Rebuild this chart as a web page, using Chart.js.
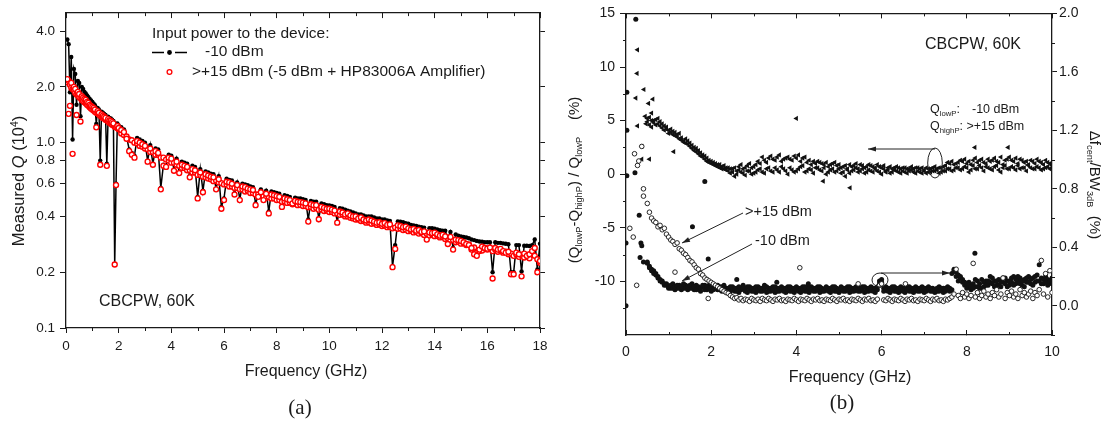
<!DOCTYPE html>
<html>
<head>
<meta charset="utf-8">
<script src="https://cdn.jsdelivr.net/npm/chart.js@4.4.1/dist/chart.umd.min.js"></script>
<style>
  body { margin: 0; background: #fff; width: 1112px; height: 424px; overflow: hidden; }
  .panel { position: absolute; top: 0; width: 556px; height: 424px; }
</style>
</head>
<body>
<div class="panel" style="left:0"><canvas id="chartA"></canvas></div>
<div class="panel" style="left:556px"><canvas id="chartB"></canvas></div>
<script>
// ---------- panel (a): measured Q (10^4) vs frequency ----------
const freqA = [
  0.05,0.10,0.15,0.20,0.25,0.30,0.35,0.40,0.45,0.50,0.55,0.60,0.65,0.70,0.75,0.80,0.85,0.90,0.95,1.00,
  1.05,1.10,1.15,1.20,1.25,1.30,1.35,1.40,1.45,1.50,1.55,1.60,1.65,1.70,1.75,1.80,1.85,1.90,1.95,2.00,
  2.1,2.2,2.3,2.4,2.5,2.6,2.7,2.8,2.9,3.0,3.1,3.2,3.3,3.4,3.5,3.6,3.7,3.8,3.9,4.0,
  4.1,4.2,4.3,4.4,4.5,4.6,4.7,4.8,4.9,5.0,5.1,5.2,5.3,5.4,5.5,5.6,5.7,5.8,5.9,6.0,
  6.1,6.2,6.3,6.4,6.5,6.6,6.7,6.8,6.9,7.0,7.1,7.2,7.3,7.4,7.5,7.6,7.7,7.8,7.9,8.0,
  8.1,8.2,8.3,8.4,8.5,8.6,8.7,8.8,8.9,9.0,9.1,9.2,9.3,9.4,9.5,9.6,9.7,9.8,9.9,10.0,
  10.1,10.2,10.3,10.4,10.5,10.6,10.7,10.8,10.9,11.0,11.1,11.2,11.3,11.4,11.5,11.6,11.7,11.8,11.9,12.0,
  12.1,12.2,12.3,12.4,12.5,12.6,12.7,12.8,12.9,13.0,13.1,13.2,13.3,13.4,13.5,13.6,13.7,13.8,13.9,14.0,
  14.1,14.2,14.3,14.4,14.5,14.6,14.7,14.8,14.9,15.0,15.1,15.2,15.3,15.4,15.5,15.6,15.7,15.8,15.9,16.0,
  16.1,16.2,16.3,16.4,16.5,16.6,16.7,16.8,16.9,17.0,17.1,17.2,17.3,17.4,17.5,17.6,17.7,17.8,17.9,18.0
];
// -10 dBm input (black dots joined by a line)
const qLowPower = [
  3.6,3.4,1.87,2.9,1.04,2.5,2.35,1.6,2.15,2.1,1.39,2.0,1.95,1.88,1.84,1.8,1.76,1.72,1.69,1.66,
  1.62,1.59,1.26,1.54,1.51,0.80,1.47,1.45,1.43,1.41,0.77,1.38,1.36,1.35,1.33,1.31,0.22,0.60,1.27,1.24,
  1.21,1.18,1.07,0.92,0.88,0.85,1.06,1.04,1.02,1.0,0.80,0.97,0.77,0.93,0.92,0.57,0.76,0.75,0.86,0.85,
  0.715,0.82,0.69,0.79,0.78,0.77,0.66,0.75,0.74,0.51,0.72,0.55,0.70,0.69,0.68,0.675,0.565,0.66,0.45,0.50,
  0.64,0.63,0.625,0.53,0.61,0.495,0.60,0.595,0.59,0.58,0.575,0.47,0.52,0.56,0.50,0.55,0.425,0.545,0.54,0.535,
  0.53,0.455,0.52,0.515,0.51,0.475,0.505,0.50,0.50,0.495,0.49,0.385,0.485,0.48,0.48,0.39,0.47,0.465,0.46,0.458,
  0.455,0.45,0.375,0.443,0.44,0.435,0.43,0.425,0.42,0.415,0.41,0.41,0.405,0.40,0.40,0.40,0.395,0.39,0.39,0.385,
  0.385,0.38,0.378,0.215,0.28,0.376,0.375,0.372,0.368,0.365,0.36,0.358,0.355,0.352,0.35,0.348,0.31,0.345,0.345,0.343,
  0.34,0.337,0.335,0.335,0.30,0.33,0.27,0.32,0.315,0.312,0.31,0.308,0.305,0.30,0.298,0.295,0.293,0.292,0.29,0.29,
  0.29,0.20,0.29,0.288,0.288,0.286,0.285,0.283,0.20,0.20,0.28,0.28,0.202,0.278,0.278,0.277,0.28,0.30,0.207,0.285
];
// >+15 dBm input (red open circles), two sweeps
const qHighPower = [
  2.2,1.43,1.58,2.1,0.87,2.0,1.95,1.41,1.88,1.83,1.3,1.78,1.75,1.72,1.7,1.66,1.64,1.6,1.58,1.56,
  1.54,1.51,1.21,1.48,1.45,0.76,1.42,1.4,1.38,1.36,0.75,1.34,1.32,1.31,1.29,1.27,0.22,0.59,1.23,1.2,
  1.17,1.14,1.05,0.90,0.86,0.83,1.02,1.0,0.98,0.96,0.79,0.93,0.76,0.9,0.88,0.56,0.75,0.74,0.83,0.82,
  0.705,0.79,0.685,0.76,0.75,0.74,0.65,0.72,0.71,0.50,0.69,0.54,0.675,0.665,0.655,0.65,0.56,0.635,0.44,0.49,
  0.615,0.61,0.60,0.525,0.59,0.49,0.58,0.575,0.565,0.56,0.555,0.46,0.51,0.54,0.49,0.53,0.415,0.525,0.52,0.515,
  0.51,0.45,0.50,0.495,0.49,0.47,0.485,0.48,0.478,0.475,0.47,0.375,0.465,0.46,0.46,0.386,0.45,0.445,0.44,0.44,
  0.435,0.43,0.37,0.425,0.42,0.41,0.415,0.405,0.40,0.40,0.39,0.395,0.385,0.38,0.385,0.38,0.375,0.37,0.372,0.365,
  0.368,0.36,0.362,0.213,0.267,0.358,0.355,0.35,0.352,0.345,0.34,0.342,0.335,0.338,0.33,0.332,0.30,0.328,0.325,0.327,
  0.32,0.315,0.318,0.312,0.284,0.31,0.265,0.30,0.298,0.295,0.29,0.284,0.28,0.27,0.25,0.245,0.265,0.275,0.27,0.268,
  0.272,0.185,0.27,0.265,0.267,0.26,0.255,0.258,0.195,0.195,0.255,0.25,0.19,0.252,0.245,0.25,0.26,0.27,0.20,0.23
];
const qHighPower2 = [
  2.12,2.15,2.05,1.98,1.95,1.92,1.86,1.82,1.8,1.76,1.74,1.7,1.68,1.65,1.63,1.6,1.58,1.55,1.53,1.51,
  1.49,1.47,1.45,1.44,1.42,1.4,1.38,1.36,1.35,1.33,1.32,1.3,1.28,1.27,1.25,1.24,1.22,1.21,1.2,1.18,
  1.12,1.1,1.08,1.04,1.03,1.0,0.99,0.96,0.95,0.93,0.92,0.89,0.89,0.86,0.86,0.83,0.83,0.81,0.80,0.78,
  0.78,0.76,0.75,0.73,0.73,0.71,0.71,0.69,0.69,0.67,0.67,0.655,0.65,0.64,0.635,0.62,0.625,0.61,0.605,0.595,
  0.595,0.58,0.58,0.57,0.57,0.56,0.56,0.545,0.55,0.535,0.535,0.525,0.525,0.515,0.515,0.505,0.51,0.50,0.50,0.49,
  0.49,0.48,0.483,0.473,0.475,0.465,0.468,0.46,0.462,0.455,0.455,0.448,0.45,0.44,0.445,0.435,0.437,0.428,0.43,0.422,
  0.423,0.415,0.415,0.408,0.41,0.40,0.40,0.393,0.39,0.385,0.385,0.378,0.378,0.37,0.372,0.365,0.367,0.36,0.362,0.355,
  0.357,0.35,0.352,0.345,0.348,0.343,0.345,0.338,0.34,0.333,0.335,0.328,0.33,0.323,0.325,0.318,0.322,0.316,0.32,0.313,
  0.315,0.308,0.31,0.302,0.305,0.297,0.298,0.29,0.292,0.285,0.287,0.28,0.282,0.265,0.272,0.255,0.26,0.262,0.27,0.265,
  0.268,0.26,0.265,0.258,0.262,0.255,0.258,0.25,0.252,0.245,0.25,0.242,0.248,0.24,0.245,0.238,0.25,0.245,0.235,0.225
];
const qTicks = [0.1, 0.2, 0.4, 0.6, 0.8, 1.0, 2.0, 4.0];
const freqMinorA = [1, 3, 5, 7, 9, 11, 13, 15, 17];

// ---------- panel (b): relative Q change and centre-frequency shift ----------
const freqB = [
  0.50,0.55,0.60,0.65,0.70,0.75,0.80,0.85,0.90,0.95,1.00,1.05,1.10,1.15,1.20,1.25,1.30,1.35,1.40,1.45,
  1.50,1.55,1.60,1.65,1.70,1.75,1.80,1.85,1.90,1.95,2.00,2.05,2.10,2.15,2.20,2.25,2.30,2.35,2.40,2.45,
  2.50,2.55,2.60,2.65,2.70,2.75,2.80,2.85,2.90,2.95,3.00,3.05,3.10,3.15,3.20,3.25,3.30,3.35,3.40,3.45,
  3.50,3.55,3.60,3.65,3.70,3.75,3.80,3.85,3.90,3.95,4.00,4.05,4.10,4.15,4.20,4.25,4.30,4.35,4.40,4.45,
  4.50,4.55,4.60,4.65,4.70,4.75,4.80,4.85,4.90,4.95,5.00,5.05,5.10,5.15,5.20,5.25,5.30,5.35,5.40,5.45,
  5.50,5.55,5.60,5.65,5.70,5.75,5.80,5.85,5.90,5.95,6.00,6.05,6.10,6.15,6.20,6.25,6.30,6.35,6.40,6.45,
  6.50,6.55,6.60,6.65,6.70,6.75,6.80,6.85,6.90,6.95,7.00,7.05,7.10,7.15,7.20,7.25,7.30,7.35,7.40,7.45,
  7.50,7.55,7.60,7.65,7.70,7.75,7.80,7.85,7.90,7.95,8.00,8.05,8.10,8.15,8.20,8.25,8.30,8.35,8.40,8.45,
  8.50,8.55,8.60,8.65,8.70,8.75,8.80,8.85,8.90,8.95,9.00,9.05,9.10,9.15,9.20,9.25,9.30,9.35,9.40,9.45,
  9.50,9.55,9.60,9.65,9.70,9.75,9.80,9.85,9.90,9.95,10.00
];
// (QlowP - QhighP) / QlowP in %, left axis (triangles), two sweeps
const dQ = [
  5.2,4.6,5.0,4.8,5.1,4.7,4.9,4.3,4.5,4.2,4.1,3.9,4.0,3.6,3.7,3.3,3.4,3.0,2.9,3.1,
  2.6,2.4,2.5,2.1,1.9,2.0,1.6,1.4,1.5,1.1,1.2,0.9,1.0,0.7,0.9,0.5,0.8,0.4,0.6,0.1,
  0.5,-0.2,0.3,0.7,0.2,0.5,-0.1,0.8,0.3,0.6,0.1,0.9,0.4,1.0,0.2,1.3,0.5,1.5,0.3,1.4,
  0.6,1.6,0.2,1.2,0.5,1.5,0.0,1.4,0.4,1.7,0.3,1.8,0.7,1.5,0.2,1.1,0.5,0.9,0.1,1.0,
  0.6,1.1,0.3,0.9,0.0,0.7,0.4,1.0,0.2,0.8,0.5,0.1,0.7,-0.2,0.4,0.9,0.3,0.8,0.6,0.2,
  0.9,0.5,0.1,0.7,0.4,0.8,0.2,0.6,0.3,0.7,0.0,0.5,0.3,0.6,0.1,0.5,0.4,0.7,0.2,0.5,
  0.3,0.6,0.1,0.5,0.4,0.2,0.6,0.3,0.5,0.1,0.4,0.6,0.2,0.5,0.3,0.7,0.4,0.1,0.6,0.3,
  0.8,0.5,1.0,0.3,0.9,0.6,1.1,0.4,1.2,0.7,1.0,0.2,0.9,1.3,0.5,1.1,0.8,1.4,0.3,1.0,
  0.6,1.2,0.4,1.5,0.8,1.1,0.2,0.9,1.3,0.5,1.6,0.7,1.2,0.4,1.0,1.4,0.6,1.1,0.3,0.9,
  1.3,0.5,1.0,0.7,1.2,0.4,0.9,0.6,1.1,0.5,0.8
];
const dQ2 = [
  4.9,5.3,4.4,5.0,4.6,5.2,4.5,4.7,4.1,4.4,3.8,4.2,3.7,3.9,3.5,3.8,3.2,3.1,3.3,2.8,
  2.9,2.7,2.2,2.4,2.2,1.7,1.8,1.7,1.2,1.3,1.0,1.1,0.8,0.9,0.6,0.7,0.5,0.6,0.3,0.5,
  0.2,0.6,0.0,0.4,0.9,0.1,0.6,0.3,1.0,0.0,0.7,0.2,1.2,0.5,1.6,0.1,1.1,0.6,1.7,0.2,
  1.3,0.4,1.8,0.7,1.4,0.3,1.6,0.6,1.3,0.2,1.5,0.5,1.2,0.8,1.6,0.3,1.3,0.4,1.2,0.6,
  1.2,0.4,1.0,0.6,1.1,0.2,0.9,0.5,1.1,0.3,0.9,0.6,0.2,0.8,0.5,0.1,0.7,0.4,1.0,0.5,
  0.3,0.8,0.6,0.2,0.9,0.3,0.7,0.5,0.9,0.2,0.6,0.8,0.2,0.4,0.7,0.2,0.6,0.3,0.6,0.1,
  0.6,0.2,0.5,0.3,0.7,0.5,0.1,0.6,0.2,0.6,0.3,0.1,0.5,0.2,0.6,0.3,0.5,0.6,0.2,0.7,
  0.3,1.1,0.5,1.2,0.4,1.0,0.6,1.3,0.5,1.4,0.6,1.2,0.4,0.8,1.5,0.5,1.3,0.6,1.1,0.7,
  1.4,0.5,1.3,0.7,1.2,0.4,1.6,0.6,0.8,1.4,0.5,1.3,0.6,1.5,0.8,0.5,1.3,0.6,1.2,0.8,
  0.6,1.2,0.5,1.4,0.6,1.1,0.5,1.3,0.7,1.0,0.6
];
const dQExtraF = [0.23,0.26,0.27,0.27,0.37,0.37,0.42,0.45,0.47,0.53,0.55,0.60,0.63,1.12,4.00,4.63,5.26,8.19,8.97];
const dQExtraV = [7.1,9.4,11.6,4.5,2.6,1.4,7.9,5.4,4.7,6.6,1.4,5.7,7.0,2.1,5.2,-0.65,-1.27,2.5,2.5];

// delta f_cent / BW_3dB in %, right axis, -10 dBm (filled circles), two sweeps
const shiftLow = [
  0.29,0.26,0.24,0.22,0.21,0.19,0.18,0.16,0.15,0.14,0.13,0.14,0.12,0.13,0.14,0.12,0.13,0.15,0.12,0.13,
  0.14,0.12,0.13,0.11,0.13,0.12,0.14,0.11,0.13,0.12,0.13,0.11,0.12,0.14,0.11,0.13,0.12,0.10,0.12,0.13,
  0.11,0.12,0.10,0.13,0.11,0.12,0.10,0.13,0.11,0.12,0.10,0.13,0.11,0.12,0.10,0.11,0.13,0.10,0.12,0.11,
  0.13,0.10,0.12,0.11,0.10,0.12,0.11,0.13,0.10,0.12,0.11,0.10,0.12,0.11,0.13,0.10,0.12,0.11,0.10,0.12,
  0.11,0.13,0.10,0.11,0.12,0.10,0.12,0.11,0.13,0.10,0.11,0.12,0.10,0.12,0.11,0.13,0.10,0.12,0.11,0.10,
  0.12,0.11,0.13,0.10,0.12,0.11,0.10,0.12,0.11,0.17,0.16,0.12,0.11,0.10,0.12,0.11,0.13,0.10,0.12,0.11,
  0.10,0.12,0.11,0.13,0.10,0.12,0.11,0.10,0.12,0.11,0.12,0.10,0.11,0.12,0.10,0.11,0.12,0.10,0.11,0.12,
  0.10,0.11,0.12,0.11,0.24,0.23,0.21,0.19,0.18,0.16,0.15,0.14,0.13,0.12,0.18,0.13,0.15,0.12,0.16,0.14,
  0.17,0.20,0.15,0.13,0.17,0.14,0.16,0.19,0.15,0.13,0.17,0.19,0.14,0.18,0.20,0.15,0.17,0.13,0.19,0.16,
  0.18,0.14,0.20,0.17,0.28,0.15,0.18,0.16,0.14,0.17,0.15
];
const shiftLow2 = [
  0.30,0.27,0.25,0.24,0.22,0.20,0.17,0.17,0.14,0.15,0.12,0.12,0.15,0.11,0.12,0.14,0.11,0.12,0.14,0.11,
  0.12,0.15,0.11,0.14,0.12,0.10,0.13,0.14,0.11,0.14,0.10,0.13,0.14,0.11,0.13,0.10,0.14,0.12,0.11,0.10,
  0.13,0.10,0.12,0.09,0.12,0.14,0.11,0.09,0.13,0.10,0.12,0.09,0.13,0.10,0.12,0.14,0.09,0.12,0.10,0.13,
  0.09,0.12,0.10,0.13,0.12,0.09,0.13,0.10,0.12,0.09,0.13,0.12,0.09,0.13,0.10,0.12,0.09,0.13,0.12,0.10,
  0.13,0.09,0.12,0.10,0.13,0.12,0.09,0.13,0.10,0.12,0.09,0.13,0.12,0.10,0.13,0.09,0.12,0.10,0.13,0.12,
  0.10,0.13,0.09,0.12,0.10,0.13,0.12,0.09,0.13,0.15,0.18,0.10,0.13,0.12,0.09,0.13,0.10,0.12,0.09,0.13,
  0.12,0.09,0.13,0.10,0.12,0.09,0.13,0.12,0.10,0.13,0.09,0.12,0.13,0.10,0.12,0.09,0.10,0.13,0.12,0.09,
  0.12,0.13,0.10,0.22,0.25,0.20,0.17,0.20,0.16,0.14,0.12,0.16,0.11,0.15,0.13,0.17,0.12,0.18,0.13,0.17,
  0.14,0.16,0.19,0.17,0.14,0.18,0.13,0.16,0.19,0.17,0.14,0.16,0.20,0.15,0.17,0.19,0.14,0.18,0.16,0.20,
  0.15,0.19,0.16,0.21,0.17,0.19,0.15,0.20,0.18,0.16,0.19
];
const shiftLowExtraF = [0.0,0.0,0.02,0.02,0.02,0.21,0.23,0.31,0.33,0.35,0.37,0.41,1.56,1.85,1.93,2.6,3.54,4.28,8.19];
const shiftLowExtraV = [0.0,0.43,1.46,1.2,0.89,0.91,1.96,0.62,0.33,0.43,0.41,0.30,0.54,0.85,0.32,0.18,0.16,0.15,0.36];

// delta f_cent / BW_3dB in %, right axis, >+15 dBm (open circles)
const shiftHigh = [
  0.70,0.64,0.60,0.58,0.57,0.54,0.55,0.52,0.53,0.49,0.47,0.45,0.44,0.42,0.43,0.39,0.38,0.36,0.35,0.33,
  0.31,0.30,0.28,0.26,0.25,0.22,0.21,0.19,0.18,0.17,0.16,0.15,0.14,0.13,0.12,0.11,0.10,0.09,0.085,0.07,
  0.06,0.05,0.055,0.04,0.05,0.035,0.045,0.04,0.03,0.05,0.04,0.035,0.045,0.03,0.05,0.04,0.035,0.05,0.04,0.03,
  0.045,0.04,0.05,0.035,0.04,0.03,0.045,0.04,0.035,0.05,0.04,0.03,0.045,0.04,0.035,0.05,0.04,0.03,0.045,0.04,
  0.05,0.035,0.04,0.03,0.045,0.04,0.035,0.05,0.04,0.03,0.045,0.04,0.05,0.035,0.04,0.03,0.045,0.04,0.035,0.05,
  0.04,0.03,0.045,0.04,0.05,0.035,0.04,0.03,0.045,0.14,0.15,0.04,0.035,0.05,0.04,0.03,0.045,0.04,0.035,0.05,
  0.04,0.03,0.045,0.04,0.05,0.035,0.04,0.03,0.045,0.04,0.035,0.05,0.04,0.03,0.045,0.04,0.05,0.035,0.04,0.03,
  0.045,0.04,0.05,0.06,0.08,0.25,0.07,0.05,0.09,0.06,0.08,0.05,0.07,0.29,0.06,0.09,0.05,0.07,0.10,0.06,
  0.08,0.05,0.09,0.07,0.11,0.06,0.08,0.19,0.05,0.09,0.07,0.10,0.06,0.08,0.05,0.11,0.07,0.09,0.06,0.08,
  0.10,0.05,0.09,0.07,0.11,0.31,0.08,0.22,0.06,0.24,0.09
];
const shiftHighExtraF = [0.09,0.17,0.20,0.25,0.27,0.30,0.37,0.41,0.41,1.15,1.93,4.08,5.45,6.56];
const shiftHighExtraV = [0.53,0.47,1.04,0.14,0.96,0.99,1.09,0.75,0.80,0.23,0.05,0.26,0.15,0.15];

const dQTicks = [-10, -5, 0, 5, 10, 15];
const dQMinor = [-12.5, -7.5, -2.5, 2.5, 7.5, 12.5];
const shiftTicks = [0.0, 0.4, 0.8, 1.2, 1.6, 2.0];
const shiftMinor = [-0.2, 0.2, 0.6, 1.0, 1.4, 1.8];
const freqMinorB = [1, 3, 5, 7, 9];

// ---------- helpers ----------
const SANS = '"Liberation Sans", Arial, sans-serif';
const SERIF = '"Liberation Serif", "Times New Roman", serif';
const INK = '#1a1a1a';

function pairs(xs, ys) {
  return xs.map((x, i) => ({ x: x, y: ys[i] }));
}

// text with sub/superscripts, centred (or left aligned) on x, vertically middle on y
function richText(ctx, x, y, parts, size, opts) {
  opts = opts || {};
  ctx.save();
  ctx.translate(x, y);
  if (opts.rot) ctx.rotate(opts.rot);
  ctx.fillStyle = opts.color || INK;
  ctx.textBaseline = 'middle';
  ctx.textAlign = 'left';
  const items = parts.map(p => {
    const s = (p.sub || p.sup) ? size * 0.62 : size;
    const font = (p.italic ? 'italic ' : '') + s + 'px ' + (opts.family || SANS);
    ctx.font = font;
    return { p: p, font: font, w: ctx.measureText(p.t).width };
  });
  const total = items.reduce((a, b) => a + b.w, 0);
  let cx = opts.align === 'left' ? 0 : -total / 2;
  items.forEach(it => {
    ctx.font = it.font;
    let dy = 0;
    if (it.p.sub) dy = size * 0.3;
    if (it.p.sup) dy = -size * 0.25;
    ctx.fillText(it.p.t, cx, dy);
    cx += it.w;
  });
  ctx.restore();
}

function arrow(ctx, x1, y1, x2, y2) {
  ctx.beginPath();
  ctx.moveTo(x1, y1);
  ctx.lineTo(x2, y2);
  ctx.stroke();
  const a = Math.atan2(y2 - y1, x2 - x1), L = 8, W = 2.6;
  ctx.beginPath();
  ctx.moveTo(x2, y2);
  ctx.lineTo(x2 - L * Math.cos(a) + W * Math.sin(a), y2 - L * Math.sin(a) - W * Math.cos(a));
  ctx.lineTo(x2 - L * Math.cos(a) - W * Math.sin(a), y2 - L * Math.sin(a) + W * Math.cos(a));
  ctx.closePath();
  ctx.fill();
}

// short unlabeled ticks between the major ones
function minorTicks(items) {
  return {
    id: 'minorTicks',
    afterDraw(chart) {
      const ctx = chart.ctx, a = chart.chartArea;
      ctx.save();
      ctx.strokeStyle = INK;
      ctx.lineWidth = 1;
      items.forEach(m => {
        const s = chart.scales[m.scale];
        m.values.forEach(v => {
          const p = Math.round(s.getPixelForValue(v)) + 0.5;
          ctx.beginPath();
          if (s.isHorizontal()) {
            const y0 = m.edge === 'top' ? a.top : a.bottom;
            ctx.moveTo(p, y0);
            ctx.lineTo(p, y0 + m.len);
          } else {
            const x0 = m.edge === 'left' ? a.left : a.right;
            ctx.moveTo(x0, p);
            ctx.lineTo(x0 + m.len, p);
          }
          ctx.stroke();
        });
      });
      ctx.restore();
    }
  };
}

function fixedTicks(values) {
  return s => { s.ticks = values.map(v => ({ value: v })); };
}

const tickFont = (size) => ({ family: SANS, size: size });

// ---------- chart (a) ----------
const notesA = {
  id: 'notesA',
  afterDraw(chart) {
    const ctx = chart.ctx;
    richText(ctx, 19, 181, [{ t: 'Measured ' }, { t: 'Q', italic: true }, { t: ' (10' }, { t: '4', sup: true }, { t: ')' }], 16.5, { rot: -Math.PI / 2 });
    richText(ctx, 306, 372, [{ t: 'Frequency (GHz)' }], 16);
    richText(ctx, 300, 408, [{ t: '(a)' }], 21, { family: SERIF });
    richText(ctx, 152, 34, [{ t: 'Input power to the device:' }], 15.5, { align: 'left' });
    // legend symbols
    ctx.save();
    ctx.strokeStyle = '#000';
    ctx.fillStyle = '#000';
    ctx.lineWidth = 1.3;
    ctx.beginPath();
    ctx.moveTo(152, 52.5); ctx.lineTo(164, 52.5);
    ctx.moveTo(175, 52.5); ctx.lineTo(187, 52.5);
    ctx.stroke();
    ctx.beginPath(); ctx.arc(169.5, 52.5, 2.4, 0, Math.PI * 2); ctx.fill();
    ctx.strokeStyle = '#f00';
    ctx.lineWidth = 1.3;
    ctx.fillStyle = '#fff';
    ctx.beginPath(); ctx.arc(169.5, 72, 2.4, 0, Math.PI * 2); ctx.fill(); ctx.stroke();
    ctx.restore();
    richText(ctx, 205, 52, [{ t: '-10 dBm' }], 15.5, { align: 'left' });
    richText(ctx, 192, 72, [{ t: '>+15 dBm (-5 dBm + HP83006A Amplifier)' }], 15.5, { align: 'left' });
    richText(ctx, 99, 302, [{ t: 'CBCPW, 60K' }], 16, { align: 'left' });
  }
};

const redCircles = {
  showLine: false,
  pointRadius: 2.5,
  pointBorderWidth: 1.35,
  pointBorderColor: '#f00',
  pointBackgroundColor: '#fff'
};

new Chart(document.getElementById('chartA'), {
  type: 'scatter',
  data: {
    datasets: [
      Object.assign({ label: '>+15 dBm (-5 dBm + HP83006A Amplifier)', data: pairs(freqA, qHighPower) }, redCircles),
      Object.assign({ label: '>+15 dBm, second sweep', data: pairs(freqA, qHighPower2) }, redCircles),
      {
        label: '-10 dBm',
        data: pairs(freqA, qLowPower),
        showLine: true,
        borderColor: '#000',
        borderWidth: 1.5,
        pointRadius: 2.2,
        pointBorderWidth: 0,
        pointBackgroundColor: '#000'
      }
    ]
  },
  options: {
    responsive: true,
    maintainAspectRatio: false,
    animation: false,
    layout: { padding: 0 },
    plugins: { legend: { display: false }, tooltip: { enabled: false } },
    scales: {
      x: {
        type: 'linear', position: 'bottom', min: 0, max: 18,
        ticks: { stepSize: 2, color: INK, font: tickFont(13.5), padding: 5, maxRotation: 0 },
        grid: { drawOnChartArea: false, tickLength: 5, tickColor: INK, color: INK },
        border: { display: true, color: INK, width: 1.3 },
        afterFit: s => { s.height = 96; }
      },
      x2: {
        type: 'linear', position: 'top', min: 0, max: 18,
        ticks: { stepSize: 2, display: false },
        grid: { drawOnChartArea: false, tickLength: -5, tickColor: INK, color: INK },
        border: { display: true, color: INK, width: 1.3 },
        afterFit: s => { s.height = 11; }
      },
      y: {
        type: 'logarithmic', position: 'left', min: 0.1, max: 5,
        afterBuildTicks: fixedTicks(qTicks),
        ticks: { color: INK, font: tickFont(13.5), padding: 5, callback: v => Number(v).toFixed(1) },
        grid: { drawOnChartArea: false, tickLength: 6, tickColor: INK, color: INK },
        border: { display: true, color: INK, width: 1.3 },
        afterFit: s => { s.width = 66; }
      },
      y2: {
        type: 'logarithmic', position: 'right', min: 0.1, max: 5,
        afterBuildTicks: fixedTicks(qTicks),
        ticks: { display: false },
        grid: { drawOnChartArea: false, tickLength: 5, tickColor: INK, color: INK },
        border: { display: true, color: INK, width: 1.3 },
        afterFit: s => { s.width = 16; }
      }
    }
  },
  plugins: [
    minorTicks([
      { scale: 'x', edge: 'bottom', values: freqMinorA, len: 3 },
      { scale: 'x2', edge: 'top', values: freqMinorA, len: 3 }
    ]),
    notesA
  ]
});

// ---------- chart (b) ----------
const notesB = {
  id: 'notesB',
  afterDraw(chart) {
    const ctx = chart.ctx;
    richText(ctx, 19, 180, [
      { t: '(Q' }, { t: 'lowP', sub: true }, { t: '-Q' }, { t: 'highP', sub: true },
      { t: ') / Q' }, { t: 'lowP', sub: true }, { t: '    (%)' }
    ], 15, { rot: -Math.PI / 2 });
    richText(ctx, 538, 185, [
      { t: '\u0394f' }, { t: 'cent', sub: true }, { t: '/BW' }, { t: '3dB', sub: true }, { t: '  (%)' }
    ], 15, { rot: Math.PI / 2 });
    richText(ctx, 294, 378, [{ t: 'Frequency (GHz)' }], 16);
    richText(ctx, 286, 403, [{ t: '(b)' }], 21, { family: SERIF });
    richText(ctx, 369, 45, [{ t: 'CBCPW, 60K' }], 16, { align: 'left' });
    richText(ctx, 374, 110, [{ t: 'Q' }, { t: 'lowP', sub: true }, { t: ':' }], 12.5, { align: 'left' });
    richText(ctx, 416, 110, [{ t: '-10 dBm' }], 12.5, { align: 'left' });
    richText(ctx, 374, 127, [{ t: 'Q' }, { t: 'highP', sub: true }, { t: ': >+15 dBm' }], 12.5, { align: 'left' });
    richText(ctx, 189, 212, [{ t: '>+15 dBm' }], 14.5, { align: 'left' });
    richText(ctx, 199, 241, [{ t: '-10 dBm' }], 14.5, { align: 'left' });

    ctx.save();
    ctx.strokeStyle = '#222';
    ctx.fillStyle = '#222';
    ctx.lineWidth = 1;
    ctx.beginPath(); ctx.ellipse(379, 163, 7.3, 15, 0, 0, Math.PI * 2); ctx.stroke();
    arrow(ctx, 379, 149, 312, 149);
    ctx.beginPath(); ctx.ellipse(324, 280, 8, 7, 0, 0, Math.PI * 2); ctx.stroke();
    arrow(ctx, 325, 273, 394, 273);
    arrow(ctx, 187, 213, 126, 243);
    arrow(ctx, 196, 244, 126, 281);
    ctx.restore();
  }
};

const triangles = {
  yAxisID: 'y',
  pointStyle: 'triangle',
  rotation: 270,
  pointRadius: 3,
  pointBorderWidth: 0,
  pointBackgroundColor: '#111'
};
const filledDots = {
  yAxisID: 'y2',
  pointRadius: 2.5,
  pointBorderWidth: 0,
  pointBackgroundColor: '#111'
};

new Chart(document.getElementById('chartB'), {
  type: 'scatter',
  data: {
    datasets: [
      {
        label: 'shift, >+15 dBm',
        yAxisID: 'y2',
        data: pairs(freqB, shiftHigh).concat(pairs(shiftHighExtraF, shiftHighExtraV)),
        pointRadius: 2.3,
        pointBorderWidth: 0.9,
        pointBorderColor: '#111',
        pointBackgroundColor: '#fff'
      },
      Object.assign({ label: 'shift, -10 dBm', data: pairs(freqB, shiftLow).concat(pairs(shiftLowExtraF, shiftLowExtraV)) }, filledDots),
      Object.assign({ label: 'shift, -10 dBm, second sweep', data: pairs(freqB, shiftLow2) }, filledDots),
      Object.assign({ label: '(QlowP-QhighP)/QlowP', data: pairs(freqB, dQ).concat(pairs(dQExtraF, dQExtraV)) }, triangles),
      Object.assign({ label: '(QlowP-QhighP)/QlowP, second sweep', data: pairs(freqB, dQ2) }, triangles)
    ]
  },
  options: {
    responsive: true,
    maintainAspectRatio: false,
    animation: false,
    layout: { padding: 0 },
    plugins: { legend: { display: false }, tooltip: { enabled: false } },
    scales: {
      x: {
        type: 'linear', position: 'bottom', min: 0, max: 10,
        ticks: { stepSize: 2, color: INK, font: tickFont(14), padding: 14, maxRotation: 0 },
        grid: { drawOnChartArea: false, tickLength: -5, tickColor: INK, color: INK },
        border: { display: true, color: INK, width: 1.3 },
        afterFit: s => { s.height = 89; }
      },
      x2: {
        type: 'linear', position: 'top', min: 0, max: 10,
        ticks: { stepSize: 2, display: false },
        grid: { drawOnChartArea: false, tickLength: -5, tickColor: INK, color: INK },
        border: { display: true, color: INK, width: 1.3 },
        afterFit: s => { s.height = 10; }
      },
      y: {
        type: 'linear', position: 'left', min: -15, max: 15,
        afterBuildTicks: fixedTicks(dQTicks),
        ticks: { color: INK, font: tickFont(14), padding: 5 },
        grid: { drawOnChartArea: false, tickLength: 6, tickColor: INK, color: INK },
        border: { display: true, color: INK, width: 1.3 },
        afterFit: s => { s.width = 70; }
      },
      y2: {
        type: 'linear', position: 'right', min: -0.2, max: 2.0,
        afterBuildTicks: fixedTicks(shiftTicks),
        ticks: { color: INK, font: tickFont(14), padding: 2, callback: v => Number(v).toFixed(1) },
        grid: { drawOnChartArea: false, tickLength: 5, tickColor: INK, color: INK },
        border: { display: true, color: INK, width: 1.3 },
        afterFit: s => { s.width = 60; }
      }
    }
  },
  plugins: [
    minorTicks([
      { scale: 'x', edge: 'bottom', values: freqMinorB, len: -3 },
      { scale: 'x2', edge: 'top', values: freqMinorB, len: 3 },
      { scale: 'y', edge: 'left', values: dQMinor, len: -3 },
      { scale: 'y2', edge: 'right', values: shiftMinor, len: 3 }
    ]),
    notesB
  ]
});
</script>
</body>
</html>
